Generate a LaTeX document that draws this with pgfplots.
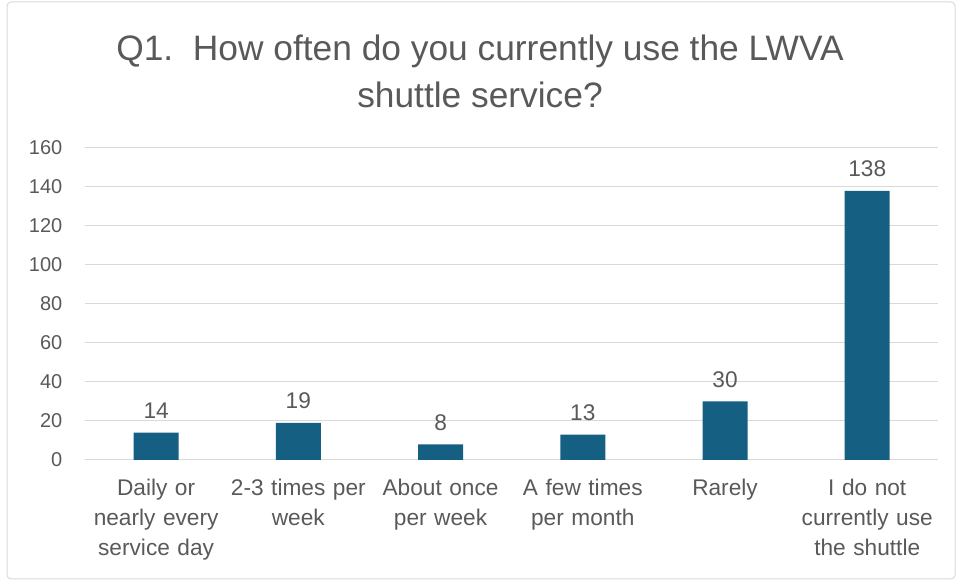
\documentclass[border=0pt]{standalone}
\usepackage{fontspec}
\setmainfont{Liberation Sans}
\usepackage{pgfplots}
\pgfplotsset{compat=1.18}
\definecolor{barc}{HTML}{156082}
\definecolor{txt}{HTML}{595959}
\definecolor{grd}{HTML}{D9D9D9}
\begin{document}
\begin{tikzpicture}
\useasboundingbox (0,0) rectangle (720pt,435pt);
\draw[grd, line width=0.75pt, rounded corners=3pt] (5.25pt,0.75pt) rectangle (716.25pt,433.5pt);
\node[txt, align=center, font=\fontsize{26.5}{35}\selectfont] at (360pt,381.4pt) {Q1.\ \ How often do you currently use the LWVA\\shuttle service?};
\begin{axis}[
  at={(63.75pt,90pt)}, anchor=south west,
  scale only axis, width=640pt, height=234pt,
  ymin=0, ymax=160, ytick={0,20,...,160},
  xmin=-0.5, xmax=5.5, xtick={0,...,5},
  xticklabels={{Daily or\\nearly every\\service day},{2-3 times per\\week},{About once\\per week},{A few times\\per month},{Rarely},{I do not\\currently use\\the shuttle}},
  ybar, bar width=33.75pt,
  axis line style={draw=none},
  major tick length=0pt,
  ymajorgrids, grid style={grd, line width=0.75pt},
  /pgf/number format/assume math mode=true,
  yticklabel style={txt, font=\fontsize{15}{18}\selectfont, xshift=-13.5pt},
  xticklabel style={txt, align=center, text width=106pt, font=\fontsize{17}{22.5}\selectfont, yshift=-11pt},
  nodes near coords,
  nodes near coords style={txt, font=\fontsize{17}{20}\selectfont, yshift=7pt},
  clip=false,
]
\addplot[fill=barc, draw=none] coordinates {(0,14) (1,19) (2,8) (3,13) (4,30) (5,138)};
\end{axis}
\end{tikzpicture}
\end{document}
